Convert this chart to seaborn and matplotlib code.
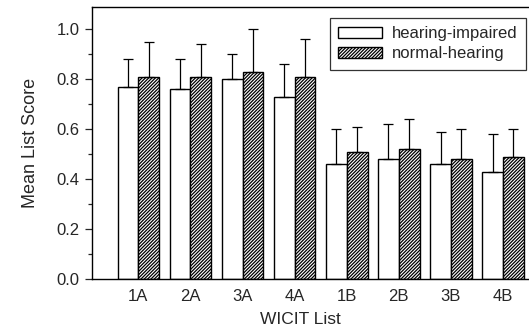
import numpy as np
import pandas as pd
import seaborn as sns
import matplotlib.pyplot as plt
from matplotlib.ticker import MultipleLocator

lists = ["1A", "2A", "3A", "4A", "1B", "2B", "3B", "4B"]
groups = ["hearing-impaired", "normal-hearing"]
impaired_mean = [0.77, 0.76, 0.80, 0.73, 0.46, 0.48, 0.46, 0.43]
impaired_top = [0.88, 0.88, 0.90, 0.86, 0.60, 0.62, 0.59, 0.58]
normal_mean = [0.81, 0.81, 0.83, 0.81, 0.51, 0.52, 0.48, 0.49]
normal_top = [0.95, 0.94, 1.00, 0.96, 0.61, 0.64, 0.60, 0.60]

df = pd.DataFrame({
    "list": lists * 2,
    "group": [groups[0]] * 8 + [groups[1]] * 8,
    "score": impaired_mean + normal_mean,
})

sns.set_style("white")
plt.rcParams["font.family"] = ["Liberation Sans", "DejaVu Sans"]
plt.rcParams["hatch.linewidth"] = 0.9

HATCH = "//////////"

fig = plt.figure(figsize=(5.29, 3.31), dpi=100)
ax_w = 1 - 92 / 529 + 0.01
ax = fig.add_axes([92 / 529, 1 - 279 / 331, ax_w, 272 / 331])

sns.barplot(data=df, x="list", y="score", hue="group", order=lists,
            hue_order=groups, palette=["white", "white"], width=0.8,
            edgecolor="black", linewidth=1.0, errorbar=None, ax=ax)

tops = [impaired_top, normal_top]
bar_sets = list(ax.containers)
for i, cont in enumerate(bar_sets):
    for j, bar in enumerate(cont.patches):
        if i == 1:
            bar.set_hatch(HATCH)
        x = bar.get_x() + bar.get_width() / 2
        h = bar.get_height()
        ax.errorbar(x, h, yerr=[[0], [tops[i][j] - h]], fmt="none",
                    ecolor="black", elinewidth=0.9, capsize=3.5, capthick=0.9,
                    zorder=1)

ax.set_xlim(-0.89, 7.6)
ax.set_ylim(0, 1.09)
ax.yaxis.set_major_locator(MultipleLocator(0.2))
ax.yaxis.set_minor_locator(MultipleLocator(0.1))
ax.yaxis.set_major_formatter(plt.FormatStrFormatter("%.1f"))
ax.tick_params(axis="y", which="major", direction="out", length=5, width=0.9,
               left=True, labelsize=12, pad=4)
ax.tick_params(axis="y", which="minor", direction="out", length=3, width=0.9,
               left=True)
ax.tick_params(axis="x", length=0, labelsize=12, pad=7)
for s in ax.spines.values():
    s.set_color("black")
    s.set_linewidth(1.0)

ax.set_xlabel("WICIT List", fontsize=12.5)
ax.set_ylabel("Mean List Score", fontsize=13)
ax.xaxis.set_label_coords((300 - 92) / (529 * ax_w), -0.122)
ax.yaxis.set_label_coords(-0.12, 0.5)

leg = ax.legend(loc="upper right", bbox_to_anchor=(0.999, 0.99), fontsize=12,
                frameon=True, fancybox=False, edgecolor="black",
                handlelength=2.6, handleheight=0.7, borderpad=0.5,
                labelspacing=0.3, handletextpad=0.6)
leg.get_frame().set_linewidth(0.9)
leg_handles = leg.legend_handles
leg_handles[1].set_hatch(HATCH)

fig.savefig("out.png", dpi=100)
